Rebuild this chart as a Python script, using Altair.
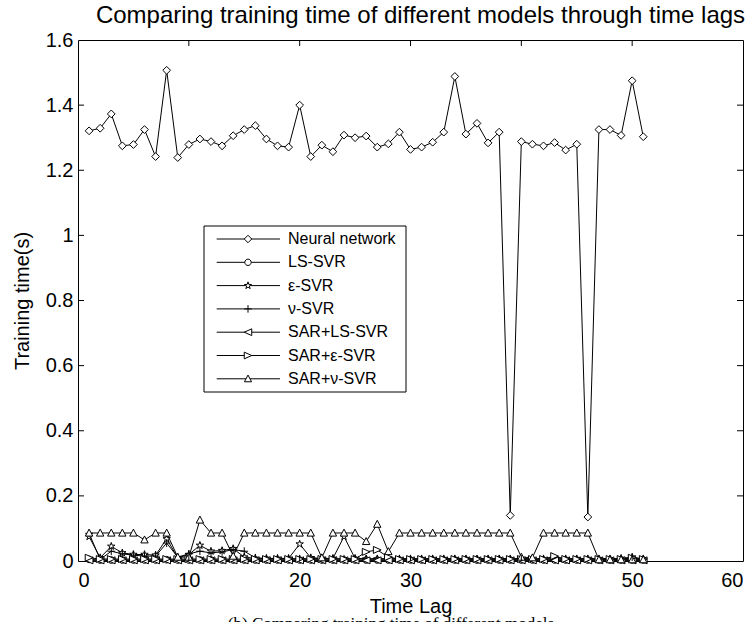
import altair as alt
import pandas as pd

# ---------------- data ----------------
lags = list(range(1, 52))
series_names = ["Neural network", "LS-SVR", "ε-SVR", "ν-SVR",
                "SAR+LS-SVR", "SAR+ε-SVR", "SAR+ν-SVR"]

neural_network = [1.321, 1.329, 1.373, 1.275, 1.279, 1.325, 1.242, 1.507, 1.239, 1.279,
                  1.296, 1.288, 1.275, 1.306, 1.325, 1.337, 1.296, 1.275, 1.271, 1.400,
                  1.242, 1.277, 1.257, 1.308, 1.300, 1.305, 1.271, 1.281, 1.317, 1.264,
                  1.271, 1.286, 1.317, 1.488, 1.311, 1.344, 1.284, 1.317, 0.140, 1.288,
                  1.280, 1.275, 1.285, 1.262, 1.280, 0.135, 1.325, 1.325, 1.307, 1.475,
                  1.303]
ls_svr = [0.005, 0.003, 0.003, 0.003, 0.003, 0.003, 0.003, 0.004, 0.003, 0.003,
          0.003, 0.003, 0.003, 0.003, 0.003, 0.003, 0.003, 0.003, 0.003, 0.003,
          0.003, 0.003, 0.003, 0.003, 0.003, 0.003, 0.003, 0.003, 0.003, 0.003,
          0.003, 0.003, 0.003, 0.003, 0.003, 0.003, 0.003, 0.003, 0.003, 0.003,
          0.003, 0.003, 0.003, 0.003, 0.003, 0.003, 0.003, 0.003, 0.003, 0.003,
          0.003]
eps_svr = [0.075, 0.010, 0.045, 0.025, 0.020, 0.020, 0.018, 0.068, 0.010, 0.020,
           0.048, 0.030, 0.032, 0.038, 0.012, 0.008, 0.008, 0.008, 0.008, 0.052,
           0.010, 0.008, 0.008, 0.075, 0.008, 0.006, 0.006, 0.006, 0.006, 0.006,
           0.006, 0.006, 0.006, 0.006, 0.006, 0.006, 0.006, 0.006, 0.006, 0.006,
           0.006, 0.006, 0.006, 0.006, 0.006, 0.006, 0.006, 0.006, 0.008, 0.012,
           0.006]
nu_svr = [0.085, 0.005, 0.030, 0.022, 0.018, 0.015, 0.015, 0.055, 0.012, 0.022,
          0.030, 0.025, 0.028, 0.035, 0.030, 0.010, 0.007, 0.007, 0.007, 0.007,
          0.007, 0.007, 0.007, 0.007, 0.007, 0.007, 0.007, 0.007, 0.007, 0.007,
          0.007, 0.007, 0.007, 0.007, 0.007, 0.007, 0.007, 0.007, 0.007, 0.007,
          0.007, 0.007, 0.007, 0.007, 0.007, 0.007, 0.007, 0.007, 0.007, 0.007,
          0.007]
sar_ls_svr = [0.002, 0.002, 0.002, 0.002, 0.002, 0.002, 0.002, 0.002, 0.002, 0.002,
              0.002, 0.002, 0.002, 0.002, 0.002, 0.002, 0.002, 0.002, 0.002, 0.002,
              0.002, 0.002, 0.002, 0.002, 0.002, 0.002, 0.002, 0.002, 0.002, 0.002,
              0.002, 0.002, 0.002, 0.002, 0.002, 0.002, 0.002, 0.002, 0.002, 0.002,
              0.002, 0.002, 0.002, 0.002, 0.002, 0.002, 0.002, 0.002, 0.002, 0.002,
              0.002]
sar_eps_svr = [0.010, 0.006, 0.006, 0.006, 0.006, 0.006, 0.006, 0.006, 0.006, 0.006,
               0.006, 0.006, 0.006, 0.006, 0.006, 0.006, 0.006, 0.006, 0.006, 0.006,
               0.006, 0.006, 0.006, 0.006, 0.006, 0.028, 0.034, 0.012, 0.006, 0.006,
               0.006, 0.006, 0.006, 0.006, 0.006, 0.006, 0.006, 0.006, 0.006, 0.006,
               0.006, 0.006, 0.015, 0.006, 0.006, 0.006, 0.006, 0.006, 0.006, 0.010,
               0.006]
sar_nu_svr = [0.086, 0.086, 0.086, 0.086, 0.086, 0.065, 0.086, 0.086, 0.012, 0.012,
              0.126, 0.086, 0.086, 0.015, 0.086, 0.086, 0.086, 0.086, 0.086, 0.086,
              0.086, 0.010, 0.086, 0.086, 0.086, 0.060, 0.113, 0.029, 0.086, 0.086,
              0.086, 0.086, 0.086, 0.086, 0.086, 0.086, 0.086, 0.086, 0.086, 0.012,
              0.010, 0.086, 0.086, 0.086, 0.086, 0.086, 0.004, 0.004, 0.004, 0.004,
              0.004]

x_ticks = [0, 10, 20, 30, 40, 50, 60]
y_ticks = [0, 0.2, 0.4, 0.6, 0.8, 1.0, 1.2, 1.4, 1.6]

title_text = "Comparing training time of different models through time lags"
x_title = "Time Lag"
y_title = "Training time(s)"
caption_text = "(b)  Comparing training time of different models"

all_series = [neural_network, ls_svr, eps_svr, nu_svr, sar_ls_svr, sar_eps_svr, sar_nu_svr]

rows = []
for name, vals in zip(series_names, all_series):
    for lag, v in zip(lags, vals):
        rows.append({"series": name, "lag": lag, "time": v})
df = pd.DataFrame(rows)
legend_df = pd.DataFrame({"series": series_names})

# ---------------- marker shapes (unit coordinates) ----------------
star_pts = [(0, -1), (0.225, -0.309), (0.951, -0.309), (0.363, 0.118), (0.588, 0.809),
            (0, 0.382), (-0.588, 0.809), (-0.363, 0.118), (-0.951, -0.309), (-0.225, -0.309)]
polys = {
    "diamond": [(0, -1), (1, 0), (0, 1), (-1, 0)],
    "star": star_pts,
    "tleft": [(-1, 0), (1, -0.9), (1, 0.9)],
    "tright": [(1, 0), (-1, -0.9), (-1, 0.9)],
    "tup": [(0, -1), (0.95, 0.8), (-0.95, 0.8)],
}


def poly_path(pts):
    return "M" + "L".join(f"{x:.4f},{y:.4f}" for x, y in pts) + "Z"


def marker(kind):
    if kind == "circle":
        return "M0.85,0A0.85,0.85,0,1,1,-0.85,0A0.85,0.85,0,1,1,0.85,0Z"
    if kind == "plus":
        return "M-1,0L1,0M0,-1L0,1"
    return poly_path(polys[kind])


kinds = ["diamond", "circle", "star", "plus", "tleft", "tright", "tup"]
plot_shapes = [marker(kd) for kd in kinds]
shape_scale = alt.Scale(domain=series_names, range=plot_shapes)

W, H = 665, 521
FONT = "Liberation Sans"

x_scale = alt.Scale(domain=[0, 60], nice=False, zero=False)
y_scale = alt.Scale(domain=[0, 1.6], nice=False, zero=False)

x_enc = alt.X("lag:Q", scale=x_scale,
              axis=alt.Axis(values=x_ticks, ticks=False, domain=False, grid=False,
                            labelFontSize=20, labelFont=FONT, labelColor="black",
                            labelPadding=9, title=x_title, titleFont=FONT,
                            titleFontSize=20, titleFontWeight="normal",
                            titleColor="black", titlePadding=6))
y_enc = alt.Y("time:Q", scale=y_scale,
              axis=alt.Axis(values=y_ticks, format="~g", ticks=False, domain=False,
                            grid=False, labelFontSize=20, labelFont=FONT,
                            labelColor="black", labelPadding=5, title=y_title,
                            titleFont=FONT, titleFontSize=20, titleFontWeight="normal",
                            titleColor="black", titlePadding=13))

base = alt.Chart(df)

lines = base.mark_line(color="black", strokeWidth=1).encode(
    x=x_enc, y=y_enc, detail="series:N", order="lag:Q")

points = base.mark_point(fill="white", fillOpacity=1, stroke="black", strokeWidth=1,
                         opacity=1, size=60).encode(
    x="lag:Q", y="time:Q",
    shape=alt.Shape("series:N", scale=shape_scale, legend=None))

xt = pd.DataFrame({"v": x_ticks[1:-1]})
yt = pd.DataFrame({"v": y_ticks[1:-1]})
tick_len = 6
ticks_bottom = alt.Chart(xt).mark_rule(color="black", strokeWidth=1).encode(
    x="v:Q", y=alt.value(H), y2=alt.value(H - tick_len))
ticks_top = alt.Chart(xt).mark_rule(color="black", strokeWidth=1).encode(
    x="v:Q", y=alt.value(0), y2=alt.value(tick_len))
ticks_left = alt.Chart(yt).mark_rule(color="black", strokeWidth=1).encode(
    y="v:Q", x=alt.value(0), x2=alt.value(tick_len))
ticks_right = alt.Chart(yt).mark_rule(color="black", strokeWidth=1).encode(
    y="v:Q", x=alt.value(W - tick_len), x2=alt.value(W))

caption = alt.Chart(pd.DataFrame({"t": [caption_text]})).mark_text(
    font="Liberation Serif", fontSize=17, align="center", baseline="top",
    color="black").encode(text="t:N", x=alt.value(313), y=alt.value(576))

main = alt.layer(lines, points, ticks_bottom, ticks_top, ticks_left, ticks_right, caption)

# ---------------- legend (own point scale for rows) ----------------
LEG_LEFT, LEG_RIGHT = 126, 328   # box edges relative to plot area
LEG_TOP, LEG_BOTTOM = 186, 352
row_scale = alt.Scale(domain=series_names, type="point", range=[199, 338.8], padding=0)
leg_y = alt.Y("series:N", scale=row_scale, axis=None)

leg_box = alt.Chart(pd.DataFrame({"b": [0]})).mark_rect(
    fill="white", stroke="black", strokeWidth=1).encode(
    x=alt.value(LEG_LEFT), x2=alt.value(LEG_RIGHT),
    y=alt.value(LEG_TOP), y2=alt.value(LEG_BOTTOM))
leg_lines = alt.Chart(legend_df).mark_rule(color="black", strokeWidth=1).encode(
    y=leg_y, x=alt.value(138.7), x2=alt.value(202))
leg_marks = alt.Chart(legend_df).mark_point(fill="white", fillOpacity=1, stroke="black",
                                             strokeWidth=1, opacity=1, size=56).encode(
    y=leg_y, x=alt.value(170),
    shape=alt.Shape("series:N", scale=shape_scale, legend=None))
leg_text = alt.Chart(legend_df).mark_text(
    font=FONT, fontSize=16, align="left", baseline="middle", color="black").encode(
    y=leg_y, x=alt.value(210), text="series:N")

legend = alt.layer(leg_box, leg_lines, leg_marks, leg_text)

chart = alt.layer(main, legend).resolve_scale(y="independent").properties(
    width=W, height=H,
    padding={"left": 78, "top": 40, "right": 13, "bottom": 61},
    autosize=alt.AutoSizeParams(type="none"),
    title=alt.TitleParams(title_text, font=FONT, fontSize=24, fontWeight="normal",
                          color="black", anchor="middle", frame="group",
                          baseline="alphabetic", offset=6, dx=10, dy=23),
    background="white",
).configure_view(stroke="black", strokeWidth=1)

chart.save("out.html", embed_options={"renderer": "svg", "actions": False})
